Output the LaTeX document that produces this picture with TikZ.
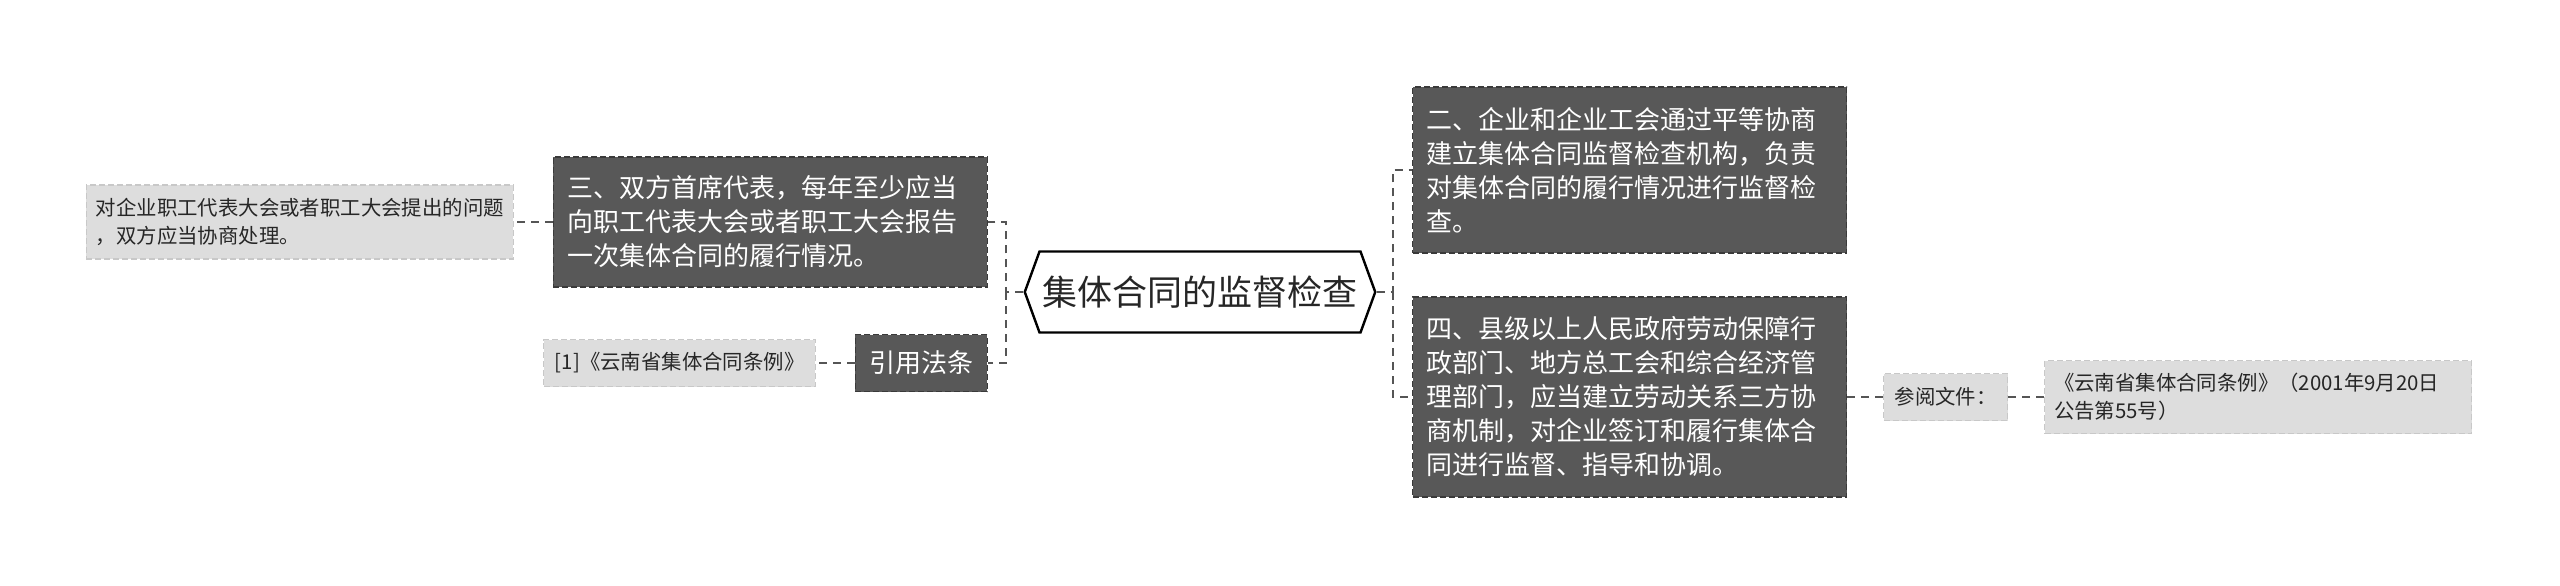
\documentclass[tikz,border=0pt]{standalone}
\usepackage{fontspec}
\setmainfont{Noto Sans CJK SC}
\usetikzlibrary{shapes.symbols}
\usepackage{xcolor}
\definecolor{topicfill}{RGB}{88,88,88}
\definecolor{topicline}{RGB}{58,58,58}
\definecolor{notefill}{RGB}{221,221,221}
\definecolor{noteline}{RGB}{200,200,200}
\definecolor{edgegray}{RGB}{85,85,85}

\begin{document}
\begin{tikzpicture}[x=0.5pt,y=-0.5pt]

    \tikzset{root/.style = {shape=signal,signal to=west and east,signal pointer angle=140,draw=black,line width=1.2pt,fill=white,text=black!85,font=\fontsize{17.5}{20}\selectfont,inner xsep=1.5pt,inner ysep=0pt,minimum height=40.5pt}}
    \tikzset{topic/.style = {draw=topicline,fill=topicfill,text=white,dash pattern=on 3pt off 1.5pt,line width=0.6pt,font=\fontsize{13}{17}\selectfont,align=left,inner xsep=7pt,inner ysep=0pt}}
    \tikzset{note/.style = {draw=noteline,fill=notefill,text=black!85,dash pattern=on 3pt off 1.5pt,line width=0.6pt,font=\fontsize{10.2}{14}\selectfont,align=left,inner xsep=5.5pt,inner ysep=0pt,minimum height=23.5pt}}
    \tikzset{edge/.style = {draw=edgegray,line width=1pt,dash pattern=on 4pt off 3pt}}
    \useasboundingbox (0,0) rectangle (2560,585);
    \node[root] (root) at (1200,292) {集体合同的监督检查};
    \node[topic,anchor=east,text width=203pt,minimum height=65pt] (report) at (988,222) {三、双方首席代表，每年至少应当\\向职工代表大会或者职工大会报告\\一次集体合同的履行情况。};
    \node[note,anchor=east,text width=204pt,inner xsep=4.75pt,minimum height=37pt] (reportnote) at (514,222) {对企业职工代表大会或者职工大会提出的问题\\，双方应当协商处理。};
    \node[topic,anchor=east,minimum height=28.5pt] (law) at (988,363) {引用法条};
    \node[note,anchor=east] (lawref) at (816,363) {[1]《云南省集体合同条例》};
    \node[topic,anchor=west,text width=203pt,minimum height=83pt] (duty) at (1412,170) {二、企业和企业工会通过平等协商\\建立集体合同监督检查机构，负责\\对集体合同的履行情况进行监督检\\查。};
    \node[topic,anchor=west,text width=203pt,minimum height=100pt] (org) at (1412,397) {四、县级以上人民政府劳动保障行\\政部门、地方总工会和综合经济管\\理部门，应当建立劳动关系三方协\\商机制，对企业签订和履行集体合\\同进行监督、指导和协调。};
    \node[note,anchor=west] (ref) at (1883,397) {参阅文件：};
    \node[note,anchor=west,text width=204pt,inner xsep=4.75pt,minimum height=36.5pt] (refdoc) at (2044,397) {《云南省集体合同条例》（2001年9月20日\\公告第55号）};
    %edges
    \coordinate (lspine) at (1006,292);
    \coordinate (rspine) at (1393,292);
    \draw[edge] (root.west) -- (lspine) |- (report.east);
    \draw[edge] (lspine) |- (law.east);
    \draw[edge] (root.east) -- (rspine) |- (duty.west);
    \draw[edge] (rspine) |- (org.west);
    \draw[edge] (report.west) -- (reportnote.east);
    \draw[edge] (law.west) -- (lawref.east);
    \draw[edge] (org.east) -- (ref.west);
    \draw[edge] (ref.east) -- (refdoc.west);
\end{tikzpicture}
\end{document}
